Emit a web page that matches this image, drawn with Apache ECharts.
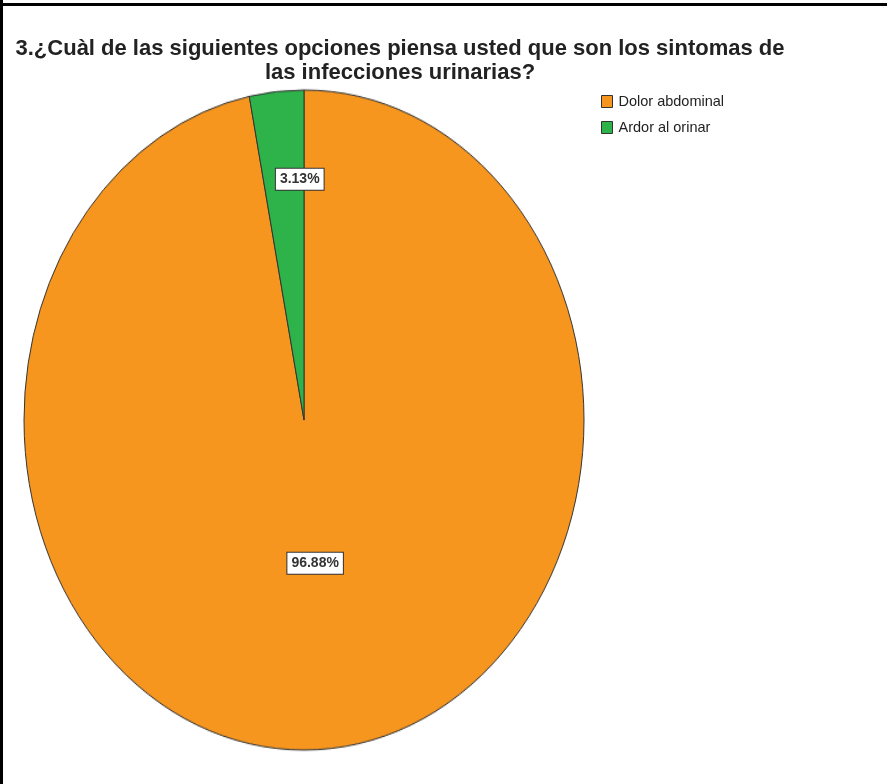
<!DOCTYPE html>
<html>
<head>
<meta charset="utf-8">
<script src="https://cdn.jsdelivr.net/npm/echarts@6/dist/echarts.min.js"></script>
<style>
  html, body { margin: 0; padding: 0; background: #fff; }
  #wrap { position: relative; width: 887px; height: 784px; background: #fff; overflow: hidden; }
  #pie, #main { position: absolute; left: 0; top: 0; width: 887px; height: 784px; }
  /* the pie is drawn as an upright ellipse */
  #pie { transform-origin: 304px 420px; transform: scaleY(1.1786); }
  .edge { position: absolute; background: #000; }
</style>
</head>
<body>
<div id="wrap">
  <div id="pie"></div>
  <div id="main"></div>
  <div class="edge" style="left:0;top:0;width:3px;height:784px;"></div>
  <div class="edge" style="left:0;top:3px;width:887px;height:3px;"></div>
</div>
<script>
// Survey answers (percent of respondents)
const categories = ['Dolor abdominal', 'Ardor al orinar'];
const percents = [96.88, 3.13];
const colors = ['#F7961E', '#2EB24A'];

const TITLE = '3.¿Cuàl de las siguientes opciones piensa usted que son los sintomas de\nlas infecciones urinarias?';
const FONT = 'Liberation Sans, Arial, sans-serif';

const pieData = categories.map((name, i) => ({
  name, value: percents[i], itemStyle: { color: colors[i] }
}));

// Filled slices
const pieChart = echarts.init(document.getElementById('pie'), null, { renderer: 'canvas' });
pieChart.setOption({
  animation: false,
  series: [{
    type: 'pie',
    center: [304, 420],
    radius: [0, 280],
    startAngle: 90,
    clockwise: true,
    silent: true,
    label: { show: false },
    labelLine: { show: false },
    itemStyle: { borderColor: '#333', borderWidth: 1 },
    data: pieData
  }]
});

// Title, legend and the boxed percentage labels
function labelStyle(offset) {
  return {
    show: true,
    position: 'inside',
    formatter: p => p.value.toFixed(2) + '%',
    fontFamily: FONT,
    fontWeight: 'bold',
    fontSize: 14,
    color: '#333',
    backgroundColor: '#fff',
    borderColor: '#333',
    borderWidth: 1,
    padding: [4, 4, 3, 4],
    offset: offset
  };
}

function labelSeries(radius, showIndex, offset) {
  return {
    type: 'pie',
    center: [304, 420],
    radius: [0, radius],
    startAngle: 90,
    clockwise: true,
    silent: true,
    labelLine: { show: false },
    itemStyle: { color: 'rgba(0,0,0,0)', borderWidth: 0 },
    data: categories.map((name, i) => ({
      name, value: percents[i],
      label: i === showIndex ? labelStyle(offset) : { show: false }
    }))
  };
}

const main = echarts.init(document.getElementById('main'), null, { renderer: 'canvas' });
main.setOption({
  animation: false,
  title: {
    text: TITLE,
    left: 395,
    top: 32,
    textAlign: 'center',
    textStyle: {
      fontFamily: FONT,
      fontWeight: 'bold',
      fontSize: 22,
      lineHeight: 24,
      color: '#222'
    }
  },
  legend: {
    orient: 'vertical',
    left: 601,
    top: 94,
    padding: 0,
    itemGap: 11,
    itemWidth: 11,
    itemHeight: 12,
    icon: 'rect',
    selectedMode: false,
    textStyle: { fontFamily: FONT, fontSize: 14.5, color: '#222', padding: [0, 0, 0, 1] },
    data: categories.map((name, i) => ({
      name,
      itemStyle: { color: colors[i], borderColor: '#333', borderWidth: 1 }
    }))
  },
  series: [
    labelSeries(488, 1, [20, 5]),
    labelSeries(282, 0, [-3, 0])
  ]
});
</script>
</body>
</html>
